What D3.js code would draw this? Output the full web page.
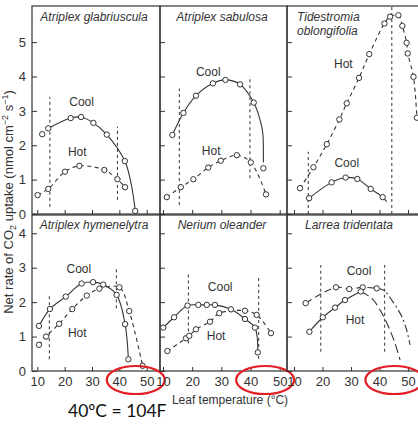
<!DOCTYPE html>
<html>
<head>
<meta charset="utf-8">
<script src="https://cdn.jsdelivr.net/npm/d3@7"></script>
<style>
  body { margin: 0; background: #fff; }
  svg text { font-family: "Liberation Sans", Arial, sans-serif; fill: #333; }
</style>
</head>
<body>
<div id="chart"></div>
<script>
var w = 418,
    h = 434;

// axis ticks
var tempTicks = [10, 20, 30, 40, 50];
var topRateTicks = [0, 1, 2, 3, 4, 5];
var bottomRateTicks = [0, 1, 2, 3, 4];

// [leaf temperature (C), net CO2 uptake]
var glabriusculaCool = [[11.8,2.32],[14.0,2.49],[22.2,2.79],[26.0,2.82],[30.5,2.65],[35.4,2.31],[42.0,1.54],[45.8,0.09]];
var glabriusculaCoolFit = [[14.0,2.49],[22.2,2.79],[26.0,2.82],[30.5,2.65],[35.4,2.31],[42.0,1.54],[44.5,0.80],[45.8,0.09]];
var glabriusculaHot = [[10.1,0.55],[14.0,0.73],[20.1,1.23],[25.4,1.40],[34.5,1.28],[39.3,1.01],[42.1,0.78]];
var glabriusculaLimits = [[14.6,0.21,3.41],[39.3,0.41,2.54]];

var sabulosaCool = [[13.2,2.30],[17.0,2.94],[21.3,3.44],[27.1,3.80],[31.4,3.90],[36.4,3.77],[41.1,3.24],[44.4,1.33]];
var sabulosaCoolFit = [[13.2,2.30],[17.0,2.94],[21.3,3.44],[27.1,3.80],[31.4,3.90],[36.4,3.77],[41.1,3.24],[43.3,2.73],[44.2,2.35],[44.4,1.86],[44.4,1.50]];
var sabulosaHot = [[11.3,0.49],[16.1,0.78],[20.4,1.01],[25.5,1.35],[29.8,1.55],[35.3,1.71],[40.1,1.50],[45.3,0.57]];
var sabulosaLimits = [[15.6,0.26,3.65],[39.8,1.04,4.01]];

var tidestromiaHot = [[12.1,0.75],[16.8,1.36],[21.5,2.03],[25.9,2.75],[28.5,3.22],[32.8,3.96],[36.4,4.65],[41.7,5.54],[43.7,5.74],[46.6,5.78],[48.0,5.47],[49.5,4.98],[49.9,4.67],[51.9,3.99],[53.1,2.80]];
var tidestromiaCool = [[15.3,0.46],[23.2,0.92],[28.1,1.06],[32.2,1.02],[36.9,0.73],[41.1,0.49]];
var tidestromiaCoolFit = [[15.3,0.46],[23.2,0.92],[28.1,1.06],[32.2,1.02],[36.9,0.73],[41.1,0.49],[42.5,0.36]];
var tidestromiaLimits = [[15.0,0,1.81],[44.3,0,6.05]];

var hymenelytraCool = [[10.6,1.31],[14.6,1.80],[20.4,2.16],[26.2,2.54],[30.4,2.58],[34.1,2.51],[39.0,2.21],[42.1,1.36],[43.3,0.34]];
var hymenelytraHot = [[10.6,0.76],[13.2,1.00],[18.0,1.37],[22.8,1.80],[28.1,2.19],[32.7,2.39],[40.0,2.43],[43.6,1.74],[48.5,0.15]];
var hymenelytraLimits = [[14.4,0.34,2.18],[38.9,1.82,3.03]];

var neriumCool = [[10.1,1.26],[13.8,1.56],[18.4,1.90],[22.1,1.92],[25.0,1.92],[27.8,1.92],[33.3,1.79],[38.1,1.51],[41.5,1.26],[42.5,0.54]];
var neriumHot = [[11.5,0.58],[17.9,0.95],[19.0,1.02],[21.3,1.21],[26.1,1.43],[29.3,1.68],[38.1,1.75],[42.1,1.63],[47.0,1.10]];
var neriumLimits = [[18.7,0.80,2.80],[42.8,0.35,2.70]];

var larreaCool = [[14.1,1.97],[24.7,2.43],[29.4,2.38],[34.1,2.43],[39.0,2.40]];
var larreaCoolTail = [[39.0,2.40],[41.4,2.35],[44.3,2.06],[47.8,1.58],[49.5,1.19],[50.7,0.76]];
var larreaHot = [[15.4,1.14],[20.1,1.56],[24.4,1.84],[27.9,2.06],[33.4,2.31]];
var larreaHotTail = [[33.4,2.31],[37.3,2.11],[40.2,1.77],[43.1,1.29],[45.4,0.81],[47.2,0.32]];
var larreaLimits = [[19.4,0.56,3.08],[41.8,0.56,3.08]];

// layout of the 2 x 3 grid
var colLeft = [32, 160, 287],
    colRight = [160, 287, 430],
    colDomain = [[8.06, 54.86], [8.97, 52.5], [7.54, 57.7]],
    rowTop = [6, 215],
    rowBottom = [214, 371],
    rowDomain = [6.05, 4.53];

var dashHot = "4,3.5",
    dashLimit = "3,3";

var panels = [
  { title: ["Atriplex glabriuscula"], row: 0, col: 0,
    lines: [{ pts: glabriusculaCoolFit }, { pts: glabriusculaHot, dash: dashHot }],
    dots: glabriusculaCool.concat(glabriusculaHot), limits: glabriusculaLimits,
    labels: [["Cool", 26.2, 3.14], ["Hot", 24.6, 1.69]] },
  { title: ["Atriplex sabulosa"], row: 0, col: 1,
    lines: [{ pts: sabulosaCoolFit }, { pts: sabulosaHot, dash: dashHot }],
    dots: sabulosaCool.concat(sabulosaHot), limits: sabulosaLimits,
    labels: [["Cool", 25.5, 4.01], ["Hot", 26.5, 1.72]] },
  { title: ["Tidestromia", "oblongifolia"], row: 0, col: 2,
    lines: [{ pts: tidestromiaCoolFit }, { pts: tidestromiaHot, dash: dashHot }],
    dots: tidestromiaCool.concat(tidestromiaHot), limits: tidestromiaLimits,
    labels: [["Hot", 27.3, 4.24], ["Cool", 28.5, 1.38]] },
  { title: ["Atriplex hymenelytra"], row: 1, col: 0,
    lines: [{ pts: hymenelytraCool }, { pts: hymenelytraHot, dash: dashHot }],
    dots: hymenelytraCool.concat(hymenelytraHot), limits: hymenelytraLimits,
    labels: [["Cool", 25.2, 2.84], ["Hot", 24.6, 1.0]] },
  { title: ["Nerium oleander"], row: 1, col: 1,
    lines: [{ pts: neriumCool }, { pts: neriumHot, dash: dashHot }],
    dots: neriumCool.concat(neriumHot), limits: neriumLimits,
    labels: [["Cool", 29.6, 2.33], ["Hot", 28.2, 0.90]] },
  { title: ["Larrea tridentata"], row: 1, col: 2,
    lines: [{ pts: larreaCool, dash: "7,4" }, { pts: larreaCoolTail, dash: "8,3,2,3" },
            { pts: larreaHot }, { pts: larreaHotTail, dash: "9,4" }],
    dots: larreaCool.concat(larreaHot), limits: larreaLimits,
    labels: [["Cool", 32.8, 2.79], ["Hot", 31.4, 1.37]] }
];

// red rings round 40-50 C on the bottom axes
var ringTemps = [46, 45, 45.2];

var svg = d3.select("#chart").append("svg")
    .attr("width", w)
    .attr("height", h);

svg.append("rect").attr("width", w).attr("height", h).attr("fill", "#fff");

panels.forEach(function(p) {
  var x = d3.scaleLinear().domain(colDomain[p.col]).range([colLeft[p.col], colRight[p.col]]),
      y = d3.scaleLinear().domain([0, rowDomain[p.row]]).range([rowBottom[p.row], rowTop[p.row]]);

  var g = svg.append("g");

  var line = d3.line().
    x(function(d) { return x(d[0]); }).
    y(function(d) { return y(d[1]); }).
    curve(d3.curveCatmullRom.alpha(0.5));

  // y ticks, pointing into the panel
  var yAxis = d3.axisLeft(y).
    tickValues(p.row === 0 ? topRateTicks : bottomRateTicks).
    tickSize(-5).tickSizeOuter(0).tickPadding(6).
    tickFormat(p.col === 0 ? d3.format("d") : "");
  var ya = g.append("g").attr("transform", "translate(" + colLeft[p.col] + ",0)").call(yAxis);

  var xAxis = d3.axisBottom(x).
    tickValues(tempTicks).
    tickSize(-4).tickSizeOuter(0).tickPadding(6).
    tickFormat(p.row === 1 ? d3.format("d") : "");
  var xa = g.append("g").attr("transform", "translate(0," + rowBottom[p.row] + ")").call(xAxis);

  [ya, xa].forEach(function(a) {
    a.select(".domain").remove();
    a.selectAll("line").attr("stroke", "#333");
    a.selectAll("text").style("font-size", "13px").attr("fill", "#333");
  });

  // frame
  g.append("rect").
    attr("x", colLeft[p.col]).
    attr("y", rowTop[p.row]).
    attr("width", colRight[p.col] - colLeft[p.col]).
    attr("height", rowBottom[p.row] - rowTop[p.row]).
    attr("fill", "none").
    attr("stroke", "#333").
    attr("stroke-width", 1.2);

  // thermal limits
  g.selectAll("line.limit").data(p.limits).enter().append("line").
    attr("class", "limit").
    attr("x1", function(d) { return x(d[0]); }).
    attr("x2", function(d) { return x(d[0]); }).
    attr("y1", function(d) { return y(d[1]); }).
    attr("y2", function(d) { return y(d[2]); }).
    attr("stroke", "#333").
    attr("stroke-width", 1).
    attr("stroke-dasharray", dashLimit);

  g.selectAll("path.fit").data(p.lines).enter().append("path").
    attr("class", "fit").
    attr("d", function(d) { return line(d.pts); }).
    attr("fill", "none").
    attr("stroke", "#333").
    attr("stroke-width", 1.1).
    attr("stroke-dasharray", function(d) { return d.dash || null; });

  g.selectAll("circle").data(p.dots).enter().append("circle").
    attr("cx", function(d) { return x(d[0]); }).
    attr("cy", function(d) { return y(d[1]); }).
    attr("r", 2.7).
    attr("fill", "#fff").
    attr("stroke", "#333").
    attr("stroke-width", 1);

  g.selectAll("text.lab").data(p.labels).enter().append("text").
    attr("class", "lab").
    attr("x", function(d) { return x(d[1]); }).
    attr("y", function(d) { return y(d[2]); }).
    attr("text-anchor", "middle").
    style("font-size", "12px").
    text(function(d) { return d[0]; });

  var oneLine = p.title.length === 1;
  g.selectAll("text.title").data(p.title).enter().append("text").
    attr("class", "title").
    attr("x", oneLine ? colLeft[p.col] + 62 : colLeft[p.col] + 10).
    attr("y", function(d, i) { return rowTop[p.row] + (p.row === 0 ? 15 : 13.5) + i * 14; }).
    attr("text-anchor", oneLine ? "middle" : "start").
    style("font-size", "12px").
    style("font-style", "italic").
    text(function(d) { return d; });

  if (p.row === 1) {
    g.append("ellipse").
      attr("cx", x(ringTemps[p.col])).
      attr("cy", 380).
      attr("rx", 29).
      attr("ry", 14).
      attr("fill", "none").
      attr("stroke", "#e31e24").
      attr("stroke-width", 2.2);
  }
});

// axis titles
var yTitle = svg.append("text").
  attr("transform", "translate(13,202) rotate(-90)").
  attr("text-anchor", "middle").
  style("font-size", "13px");
yTitle.append("tspan").text("Net rate of CO");
yTitle.append("tspan").attr("dy", 3).style("font-size", "9px").text("2");
yTitle.append("tspan").attr("dy", -3).text(" uptake (nmol cm");
yTitle.append("tspan").attr("dy", -5).style("font-size", "9px").text("\u22122");
yTitle.append("tspan").attr("dy", 5).text(" s");
yTitle.append("tspan").attr("dy", -5).style("font-size", "9px").text("\u22121");
yTitle.append("tspan").attr("dy", 5).text(")");

svg.append("text").
  attr("x", 230).
  attr("y", 404).
  attr("text-anchor", "middle").
  style("font-size", "12px").
  text("Leaf temperature (\u00B0C)");

svg.append("text").
  attr("x", 68).
  attr("y", 417).
  style("font-family", "Lato, 'Open Sans', sans-serif").
  style("font-size", "17.5px").
  style("fill", "#111").
  text("40\u00BAC = 104F");
</script>
</body>
</html>
